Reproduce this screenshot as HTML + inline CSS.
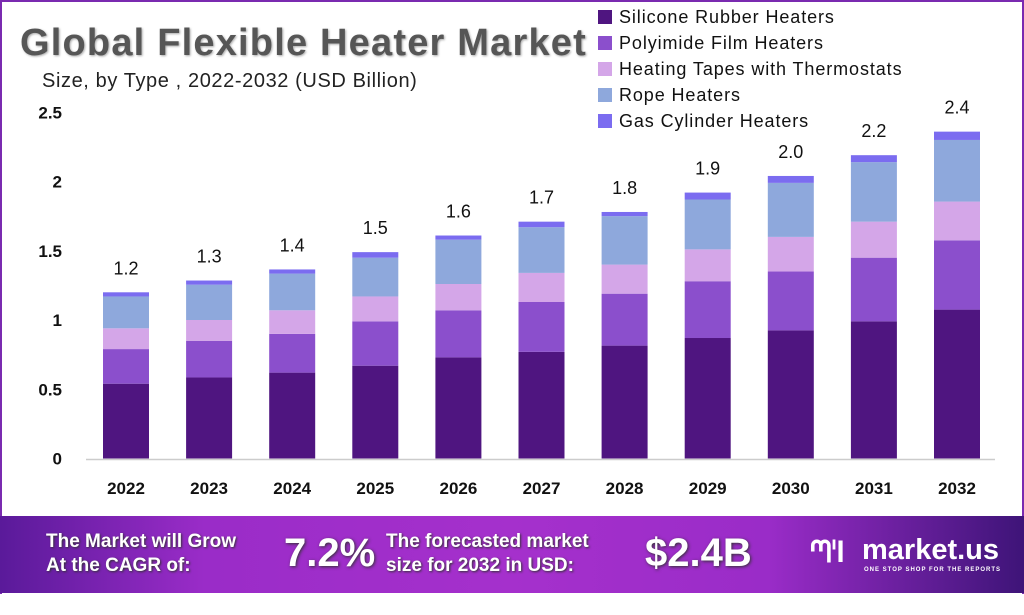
<!DOCTYPE html>
<html><head><meta charset="utf-8"><style>
body{margin:0;width:1024px;height:615px;overflow:hidden;background:#fff;font-family:"Liberation Sans",sans-serif}
#frame{position:absolute;left:0;top:0;width:1020px;height:592px;border:2px solid #7a2ab0;border-bottom:none}
#title{position:absolute;left:20px;top:22px;font-size:38px;font-weight:bold;color:#565656;text-shadow:1px 1px 2px #aaa;letter-spacing:1.2px}
#sub{position:absolute;left:42px;top:70px;font-size:20px;color:#222;letter-spacing:0.6px}
.leg{position:absolute;left:598px;font-size:18px;color:#111;line-height:20px;letter-spacing:0.9px}
.leg i{display:inline-block;width:14px;height:14px;margin-right:7px;vertical-align:-1px}
#footer{position:absolute;left:0;top:516px;width:1024px;height:77px;background:linear-gradient(90deg,#5a1a9a 0%,#9a2cc8 20%,#a530cc 50%,#9a2cc8 75%,#3e1478 100%);color:#fff;font-weight:bold}
.ft{position:absolute;font-size:19px;line-height:24px;text-shadow:1px 1px 2px #333}
.big{position:absolute;font-size:40px;top:15px;text-shadow:1px 1px 3px #333}
</style></head><body>
<div id="frame"></div>
<div id="title">Global Flexible Heater Market</div>
<div id="sub">Size, by Type , 2022-2032 (USD Billion)</div>
<div class="leg" style="top:7px"><i style="background:#4f1580"></i>Silicone Rubber Heaters</div>
<div class="leg" style="top:33px"><i style="background:#8b4fcc"></i>Polyimide Film Heaters</div>
<div class="leg" style="top:59px"><i style="background:#d4a6e8"></i>Heating Tapes with Thermostats</div>
<div class="leg" style="top:85px"><i style="background:#8ea8dc"></i>Rope Heaters</div>
<div class="leg" style="top:111px"><i style="background:#7b6cf0"></i>Gas Cylinder Heaters</div>
<svg id="chart" width="1024" height="515" style="position:absolute;left:0;top:0"></svg>
<div id="footer">
<div class="ft" style="left:46px;top:14px">The Market will Grow<br>At the CAGR of:</div>
<div class="big" style="left:284px">7.2%</div>
<div class="ft" style="left:386px;top:14px">The forecasted market<br>size for 2032 in USD:</div>
<div class="big" style="left:645px">$2.4B</div>
<div style="position:absolute;left:810px;top:20px;font-size:30px;font-weight:bold">ᘉᑊl</div>
<div style="position:absolute;left:862px;top:18px;font-size:29px">market.us</div>
<div style="position:absolute;left:864px;top:51px;font-size:6px;letter-spacing:1px">ONE STOP SHOP FOR THE REPORTS</div>
</div>
<script>
const years=["2022","2023","2024","2025","2026","2027","2028","2029","2030","2031","2032"];
const silicone=[0.54,0.585,0.62,0.67,0.73,0.77,0.815,0.87,0.925,0.99,1.075];
const polyimide=[0.25,0.265,0.28,0.32,0.34,0.36,0.375,0.41,0.425,0.46,0.50];
const tapes=[0.15,0.15,0.17,0.18,0.19,0.21,0.21,0.23,0.25,0.26,0.28];
const rope=[0.23,0.255,0.265,0.28,0.32,0.33,0.35,0.36,0.39,0.43,0.445];
const gas=[0.03,0.03,0.03,0.04,0.03,0.04,0.03,0.05,0.05,0.05,0.06];
const totalLabels=["1.2","1.3","1.4","1.5","1.6","1.7","1.8","1.9","2.0","2.2","2.4"];
const yTicks=[0,0.5,1,1.5,2,2.5];
const yTickLabels=["0","0.5","1","1.5","2","2.5"];
const NS="http://www.w3.org/2000/svg";
const svg=document.getElementById('chart');
const y0=458.5,pxPer=138.5;
const yS=v=>y0-v*pxPer;
const xS=i=>126+i*83.1;
const bw=46;
function mk(t,a){const e=document.createElementNS(NS,t);for(const k in a)e.setAttribute(k,a[k]);svg.appendChild(e);return e;}
const ax=mk('line',{x1:86,x2:995,y1:y0+1,y2:y0+1,stroke:'#ccc','stroke-width':1.5});


yTicks.forEach((v,i)=>{const t=mk('text',{x:62,y:yS(v)+6,'text-anchor':'end','font-size':17,'font-weight':'bold',fill:'#111'});t.textContent=yTickLabels[i];

});
const series=[[silicone,'#4f1580','silicone'],[polyimide,'#8b4fcc','polyimide'],[tapes,'#d4a6e8','tapes'],[rope,'#8ea8dc','rope'],[gas,'#7b6cf0','gas']];
years.forEach((yr,i)=>{let acc=0;
series.forEach(([arr,col,nm])=>{const v=arr[i];const r=mk('rect',{x:xS(i)-bw/2,y:yS(acc+v),width:bw,height:v*pxPer,fill:col});

acc+=v;});
const tl=mk('text',{x:xS(i),y:yS(acc)-18,'text-anchor':'middle','font-size':18,fill:'#111'});tl.textContent=totalLabels[i];


const xl=mk('text',{x:xS(i),y:494,'text-anchor':'middle','font-size':17,'font-weight':'bold',fill:'#111'});xl.textContent=yr;

});
</script>
</body></html>
